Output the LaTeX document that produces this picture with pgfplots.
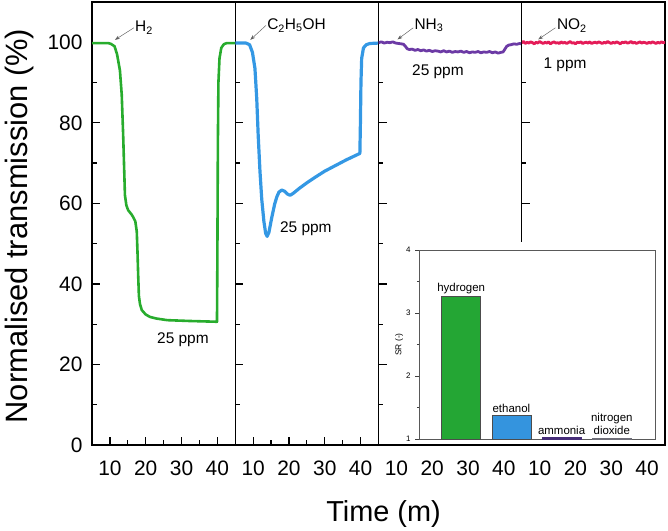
\documentclass[border=0pt]{standalone}
\usepackage{fontspec}
\setmainfont{Liberation Sans}
\usepackage{pgfplots}
\pgfplotsset{compat=1.18}
\usetikzlibrary{arrows.meta}

\definecolor{hgreen}{RGB}{40,172,45}
\definecolor{eblue}{RGB}{52,152,228}
\definecolor{apurple}{RGB}{108,58,165}
\definecolor{nred}{RGB}{228,28,88}
\definecolor{bargreen}{RGB}{36,166,52}
\definecolor{barblue}{RGB}{52,148,222}
\definecolor{barpurple}{RGB}{70,45,120}
\definecolor{bargray}{RGB}{110,110,120}

\tikzset{
  curve/.style={line width=2.6bp, line join=round, line cap=round},
  note/.style={font=\fontsize{15.5}{18}\selectfont, inner sep=0pt},
  pointer/.style={draw=gray!80!black, line width=0.5bp, -{Stealth[length=5bp,width=3.5bp,fill=black]}},
}

\pgfplotsset{
  panel/.style={
    scale only axis,
    width=143.25bp, height=443bp,
    anchor=south west,
    xmin=5, xmax=45, ymin=0, ymax=110,
    xtick={10,20,30,40}, minor xtick={15,25,35},
    ytick={0,20,...,100}, minor ytick={10,30,...,90},
    tick align=inside,
    major tick length=8bp, minor tick length=4.5bp,
    xtick pos=bottom, ytick pos=left,
    axis line style={line width=1.4bp, black},
    every tick/.style={line width=1.2bp, black},
    tick label style={font=\fontsize{21}{25}\selectfont},
    xticklabel style={yshift=-12bp},
    yticklabel style={xshift=-6bp},
    /pgf/number format/assume math mode=true,
    clip=true,
  },
}

\begin{document}
\begin{tikzpicture}
\useasboundingbox (0,0) rectangle (668bp,531bp);

% ---- panel 1: hydrogen ----
\begin{axis}[panel, at={(92bp,86bp)}]
\addplot[curve, hgreen] coordinates {
(5,99.8) (9.5,99.8) (10.3,99.6) (11.3,99.0) (12.0,97.0) (12.8,93.0) (13.3,87.0)
(13.7,77.0) (14.0,68.0) (14.2,62.0) (14.6,59.5) (15.1,58.3) (16.0,57.3) (16.5,56.6)
(17.1,55.5) (17.5,53.0) (17.7,48.0) (17.9,42.0) (18.1,37.0) (18.4,35.0) (18.9,33.5)
(20.0,32.4) (21.2,31.8) (23.0,31.4) (26.0,31.0) (32.0,30.8) (39.9,30.6) (40.0,45.0)
(40.15,75.0) (40.3,90.0) (40.6,96.0) (41.1,98.6) (41.8,99.5) (42.6,99.8) (45,99.8)
};
\draw[pointer] (axis cs:16.7,103.6) -- (axis cs:11.4,100.6);
\node[note, anchor=west] at (axis cs:17.0,103.6) {H\textsubscript{2}};
\node[note] at (axis cs:30.4,26.1) {25 ppm};
\end{axis}

% ---- panel 2: ethanol ----
\begin{axis}[panel, at={(235.25bp,86bp)}, yticklabels={}]
\addplot[curve, eblue, line width=3.2bp] coordinates {
(5,99.8) (8,99.8) (9,99.4) (9.8,97.5) (10.5,93.5) (11,86) (11.4,77) (11.9,68)
(12.4,61) (13,55.5) (13.5,52.5) (13.9,51.8) (14.4,52.8) (15.2,56.5) (16,59.8)
(16.6,61.6) (17.2,62.8) (18,63.3) (18.8,63) (19.6,62.3) (20.3,62) (21.2,62.5)
(23,63.8) (25,65.1) (27,66.3) (30,68) (33,69.4) (36,70.8) (39.8,72.4)
(39.95,80) (40.1,90) (40.3,96) (40.8,98.6) (41.6,99.4) (42.6,99.7) (45,99.8)
};
\draw[pointer] (axis cs:13.6,104.2) -- (axis cs:9.2,100.6);
\node[note, anchor=west] at (axis cs:13.9,104.2) {C\textsubscript{2}H\textsubscript{5}OH};
\node[note] at (axis cs:24.7,53.6) {25 ppm};
\end{axis}

% ---- panel 3: ammonia ----
\begin{axis}[panel, at={(378.5bp,86bp)}, yticklabels={}]
\addplot[curve, apurple, line width=2.8bp] coordinates {
(5,99.9) (5.8,100.1) (6.6,99.8) (7.4,100.0) (8.2,99.9) (9.0,100.1) (9.8,99.8)
(10.6,99.7) (11.4,99.6) (12.0,99.5) (12.5,99.0) (13.0,98.4) (13.6,98.2) (14.4,98.3)
(15.2,98.0) (16.0,98.2) (16.8,97.9) (17.6,98.1) (18.4,97.8) (19.2,98.0) (20.0,97.7)
(20.8,97.9) (21.6,97.8) (22.4,97.6) (23.2,97.9) (24.0,97.6) (24.8,97.8) (25.6,97.5)
(26.4,97.7) (27.2,97.6) (28.0,97.8) (28.8,97.5) (29.6,97.7) (30.4,97.4) (31.2,97.6)
(32.0,97.5) (32.8,97.7) (33.6,97.4) (34.4,97.6) (35.2,97.5) (36.0,97.7) (36.8,97.4)
(37.6,97.6) (38.4,97.3) (39.2,97.5) (39.8,97.6) (40.3,98.3) (40.8,99.0) (41.4,99.3)
(42.0,99.4) (42.8,99.6) (43.6,99.5) (44.4,99.7) (45,99.6)
};
\draw[pointer] (axis cs:14.7,103.6) -- (axis cs:10.3,100.7);
\node[note, anchor=west] at (axis cs:15.0,104.2) {NH\textsubscript{3}};
\node[note] at (axis cs:21.6,92.8) {25 ppm};
\end{axis}

% ---- panel 4: nitrogen dioxide ----
\begin{axis}[panel, at={(521.75bp,86bp)}, yticklabels={}]
\addplot[curve, nred, line width=2.8bp] coordinates {
(5,99.9) (5.5,100.2) (6,99.7) (6.5,100.0) (7,99.8) (7.5,100.1) (8,99.9) (8.5,99.6)
(9,100.0) (9.5,99.8) (10,100.2) (10.5,99.9) (11,99.7) (11.5,100.0) (12,99.8)
(12.5,100.1) (13,99.6) (13.5,99.9) (14,100.1) (14.5,99.8) (15,99.9) (15.5,99.7)
(16,100.1) (16.5,99.8) (17,100.0) (17.5,99.7) (18,99.9) (18.5,100.2) (19,99.8)
(19.5,99.9) (20,99.6) (20.5,100.0) (21,99.9) (21.5,100.1) (22,99.7) (22.5,99.9)
(23,100.0) (23.5,99.8) (24,100.1) (24.5,99.7) (25,99.9) (25.5,100.0) (26,99.8)
(26.5,100.1) (27,99.9) (27.5,99.7) (28,100.0) (28.5,99.8) (29,100.2) (29.5,99.9)
(30,99.7) (30.5,100.0) (31,99.8) (31.5,100.1) (32,99.9) (32.5,99.6) (33,100.0)
(33.5,99.9) (34,100.1) (34.5,99.8) (35,99.9) (35.5,100.2) (36,99.8) (36.5,100.0)
(37,99.7) (37.5,99.9) (38,100.1) (38.5,99.8) (39,100.0) (39.5,99.9) (40,99.7)
(40.5,100.0) (41,99.8) (41.5,100.1) (42,99.9) (42.5,99.7) (43,100.0) (43.5,99.8)
(44,100.1) (44.5,99.9) (45,100.0)
};
\draw[pointer] (axis cs:14.4,103.6) -- (axis cs:9.6,100.7);
\node[note, anchor=west] at (axis cs:14.8,104.2) {NO\textsubscript{2}};
\node[note] at (axis cs:17.1,94.3) {1 ppm};
\end{axis}

% white ground for the selectivity inset
\fill[white] (388bp,87.2bp) rectangle (664.2bp,288.5bp);

% ---- inset: selectivity ratio ----
\begin{axis}[
  at={(419bp,92bp)}, anchor=south west, scale only axis,
  width=236bp, height=189bp,
  xmin=-0.84, xmax=3.86, ymin=1, ymax=4,
  xtick=\empty, ytick={1,2,3,4}, minor ytick={1.5,2.5,3.5},
  ytick pos=left, tick align=outside,
  major tick length=4bp, minor tick length=2.2bp,
  axis line style={draw=gray!70!black, line width=0.9bp},
  every tick/.style={line width=0.7bp, gray!50!black},
  yticklabel style={font=\fontsize{8}{9}\selectfont, xshift=-1bp},
  /pgf/number format/assume math mode=true,
  ylabel={SR (-)},
  ylabel style={font=\fontsize{8.5}{10}\selectfont, yshift=-4bp},
  ybar, bar width=39bp, bar shift=0pt,
  clip=false,
]
\addplot[fill=bargreen, draw=gray!60!black, line width=0.6bp] coordinates {(0,3.26)};
\addplot[fill=barblue, draw=gray!60!black, line width=0.6bp] coordinates {(1,1.38)};
\addplot[fill=barpurple, draw=barpurple, line width=0.6bp] coordinates {(2,1.02)};
\addplot[fill=bargray, draw=bargray, line width=0.6bp] coordinates {(3,1.01)};
\node[font=\fontsize{11.5}{13}\selectfont, anchor=south, inner sep=2.5bp] at (axis cs:0,3.26) {hydrogen};
\node[font=\fontsize{11.5}{13}\selectfont, anchor=south, inner sep=2.5bp] at (axis cs:1,1.38) {ethanol};
\node[font=\fontsize{11.5}{13}\selectfont, anchor=south, inner sep=2.5bp] at (axis cs:2,1.02) {ammonia};
\node[font=\fontsize{11.5}{13.5}\selectfont, anchor=south, inner sep=2.5bp, align=center] at (axis cs:3,1.02) {nitrogen\\dioxide};
\end{axis}

% outer frame lines along the inset
\draw[line width=1.4bp] (378.5bp,86bp) -- (665bp,86bp);
\draw[line width=1.4bp] (665bp,86bp) -- (665bp,100bp);

% axis titles
\node[rotate=90, anchor=base, font=\fontsize{31}{36}\selectfont, inner sep=0pt] at (27bp,305bp) {Normalised transmission (\%)};
\node[anchor=base, font=\fontsize{29}{34}\selectfont, inner sep=0pt] at (383.5bp,10bp) {Time (m)};
\end{tikzpicture}
\end{document}
